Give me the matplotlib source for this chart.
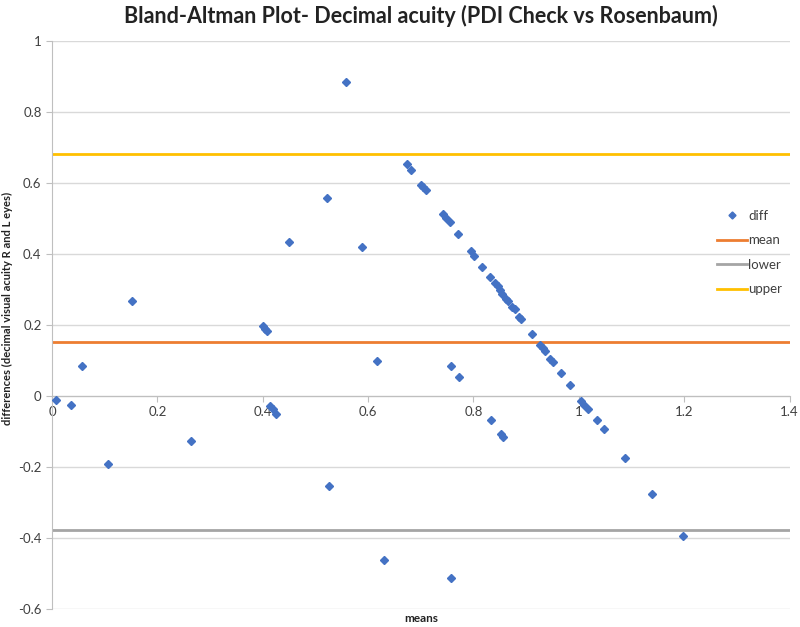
import matplotlib.pyplot as plt
import numpy as np


plt.rcParams['font.family'] = ['Lato', 'DejaVu Sans']

means = [0.008, 0.037, 0.057, 0.106, 0.152, 0.263, 0.401, 0.405, 0.408, 0.413,
         0.419, 0.425, 0.449, 0.522, 0.526, 0.558, 0.589, 0.616, 0.631, 0.673,
         0.681, 0.701, 0.705, 0.709, 0.743, 0.748, 0.755, 0.757, 0.757, 0.771,
         0.773, 0.795, 0.801, 0.817, 0.831, 0.834, 0.841, 0.846, 0.850, 0.852,
         0.855, 0.856, 0.862, 0.866, 0.874, 0.879, 0.887, 0.890, 0.912, 0.926,
         0.931, 0.936, 0.945, 0.950, 0.966, 0.983, 1.005, 1.010, 1.017, 1.034,
         1.048, 1.087, 1.138, 1.197]
diffs = [-0.010, -0.024, 0.086, -0.193, 0.269, -0.126, 0.197, 0.190, 0.182, -0.028,
         -0.036, -0.051, 0.435, 0.557, -0.253, 0.885, 0.421, 0.100, -0.461, 0.655,
         0.638, 0.596, 0.590, 0.582, 0.512, 0.502, 0.490, 0.086, -0.513, 0.458,
         0.053, 0.408, 0.396, 0.364, 0.336, -0.069, 0.319, 0.309, 0.298, -0.106,
         0.289, -0.115, 0.275, 0.267, 0.250, 0.244, 0.223, 0.218, 0.175, 0.145,
         0.136, 0.126, 0.105, 0.096, 0.066, 0.032, -0.014, -0.024, -0.036, -0.068,
         -0.094, -0.175, -0.277, -0.396]
mean_diff = 0.152
lower = -0.378
upper = 0.682

x_ticks = [0, 0.2, 0.4, 0.6, 0.8, 1, 1.2, 1.4]
y_ticks = [-0.6, -0.4, -0.2, 0, 0.2, 0.4, 0.6, 0.8, 1]


def fmt(v):
  return '%g' % v


fig = plt.figure(figsize=(8, 6.27), dpi=100)
ax = fig.add_axes([0.065, 0.029, 0.922, 0.905])

for y in y_ticks:
  ax.axhline(y, color='#d9d9d9', lw=1, zorder=0)

ax.plot(means, diffs, 'D', color='#4472C4', ms=4.2, label='diff', zorder=3)
ax.axhline(mean_diff, color='#ED7D31', lw=2, label='mean', zorder=2)
ax.axhline(lower, color='#A5A5A5', lw=2, label='lower', zorder=2)
ax.axhline(upper, color='#FFC000', lw=2, label='upper', zorder=2)

ax.set_xlim(0, 1.4)
ax.set_ylim(-0.6, 1)
ax.set_xticks(x_ticks)
ax.set_xticklabels([fmt(v) for v in x_ticks])
ax.set_yticks(y_ticks)
ax.set_yticklabels([fmt(v) for v in y_ticks])

for s in ['top', 'right']:
  ax.spines[s].set_visible(False)
ax.spines['bottom'].set_position(('data', 0))
ax.spines['bottom'].set_color('#bfbfbf')
ax.spines['left'].set_color('#bfbfbf')
ax.tick_params(axis='both', colors='#bfbfbf', labelcolor='#404040',
               labelsize=9.5, length=4)
ax.tick_params(axis='x', pad=3)

ax.set_title('Bland-Altman Plot- Decimal acuity (PDI Check vs Rosenbaum)',
             fontsize=15.5, fontweight='bold', color='#222222', pad=13)
ax.set_ylabel('differences (decimal visual acuity R and L eyes)',
              fontsize=8, fontweight='bold', color='#222222')
ax.yaxis.set_label_coords(-0.053, 0.53)
ax.text(0.5, -0.008, 'means', transform=ax.transAxes, ha='center', va='top',
        fontsize=8.5, fontweight='bold', color='#222222')

ax.legend(loc='center left', bbox_to_anchor=(0.885, 0.628), frameon=False,
          fontsize=9.5, handlelength=2.3, labelspacing=0.95, handletextpad=0.1,
          labelcolor='#404040', markerscale=0.85)

plt.savefig('out.png', dpi=100)
